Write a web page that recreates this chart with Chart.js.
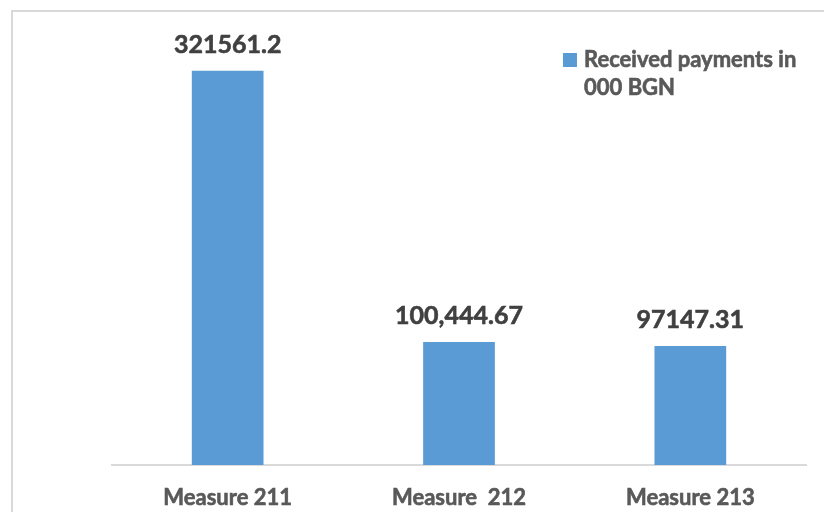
<!DOCTYPE html>
<html>
<head>
<meta charset="utf-8">
<script src="https://cdn.jsdelivr.net/npm/chart.js@4.4.0/dist/chart.umd.min.js"></script>
<style>
  html, body { margin: 0; padding: 0; background: #fff; }
  #wrap { width: 824px; height: 512px; position: relative; }
</style>
</head>
<body>
<div id="wrap"><canvas id="payments" width="824" height="512"></canvas></div>
<script>
// measures and amounts received (thousand BGN)
const measures = ["Measure 211", "Measure  212", "Measure 213"];
const received = [321561.2, 100444.67, 97147.31];
const receivedText = ["321561.2", "100,444.67", "97147.31"];
const seriesName = "Received payments in 000 BGN";

const BAR_BLUE = "#5b9bd5";
const FONT = "Lato, 'Open Sans', sans-serif";

// -------------------------------
// Outer frame around the chart
// -------------------------------
const framePlugin = {
  id: "frame",
  beforeDraw(chart) {
    const { ctx, width, height } = chart;
    ctx.save();
    ctx.strokeStyle = "#d9d9d9";
    ctx.lineWidth = 2;
    ctx.beginPath();
    ctx.moveTo(12, height);
    ctx.lineTo(12, 11);
    ctx.lineTo(width, 11);
    ctx.stroke();
    ctx.restore();
  },
};

// bold text with a hairline stroke so it reads heavier
function heavyText(ctx, text, x, y) {
  ctx.fillText(text, x, y);
  ctx.lineWidth = 0.6;
  ctx.strokeStyle = ctx.fillStyle;
  ctx.strokeText(text, x, y);
}

// -------------------------------
// Value labels above each bar
// -------------------------------
const valueLabels = {
  id: "valueLabels",
  afterDatasetsDraw(chart) {
    const { ctx } = chart;
    const meta = chart.getDatasetMeta(0);
    ctx.save();
    ctx.font = `bold 25px ${FONT}`;
    ctx.fillStyle = "#404040";
    ctx.textAlign = "center";
    ctx.textBaseline = "alphabetic";
    meta.data.forEach((bar, i) => {
      heavyText(ctx, receivedText[i], bar.x, bar.y - 18);
    });
    ctx.restore();
  },
};

// -------------------------------
// Legend box in the top right, text wrapped on two lines
// -------------------------------
const sideLegend = {
  id: "sideLegend",
  afterDraw(chart) {
    const { ctx } = chart;
    const ds = chart.data.datasets[0];
    const words = ds.label.split(" ");
    const lines = [words.slice(0, 3).join(" "), words.slice(3).join(" ")];
    ctx.save();
    ctx.fillStyle = ds.backgroundColor;
    ctx.fillRect(563, 53, 14, 14);
    ctx.font = `bold 22px ${FONT}`;
    ctx.fillStyle = "#595959";
    ctx.textAlign = "left";
    ctx.textBaseline = "alphabetic";
    lines.forEach((line, i) => heavyText(ctx, line, 584, 67 + i * 28));
    ctx.restore();
  },
};

// -------------------------------
// Category names under the axis
// -------------------------------
const categoryLabels = {
  id: "categoryLabels",
  afterDraw(chart) {
    const { ctx } = chart;
    const xScale = chart.scales.x;
    ctx.save();
    ctx.font = `bold 22px ${FONT}`;
    ctx.fillStyle = "#595959";
    ctx.textAlign = "center";
    ctx.textBaseline = "alphabetic";
    chart.data.labels.forEach((name, i) => {
      heavyText(ctx, name, xScale.getPixelForValue(i), xScale.bottom - 7);
    });
    ctx.restore();
  },
};

new Chart(document.getElementById("payments"), {
  type: "bar",
  data: {
    labels: measures,
    datasets: [
      {
        label: seriesName,
        data: received,
        backgroundColor: BAR_BLUE,
        categoryPercentage: 1,
        barPercentage: 0.31,
      },
    ],
  },
  options: {
    responsive: false,
    animation: false,
    layout: { padding: { left: 112, right: 18, top: 36, bottom: 0 } },
    plugins: { legend: { display: false }, tooltip: { enabled: false } },
    scales: {
      y: { display: false, min: 0, max: 350000 },
      x: {
        grid: { display: false, drawTicks: false },
        border: { color: "#d9d9d9", width: 2 },
        ticks: { display: false },
        afterFit(scale) {
          scale.height = 47;
        },
      },
    },
  },
  plugins: [framePlugin, valueLabels, sideLegend, categoryLabels],
});
</script>
</body>
</html>
